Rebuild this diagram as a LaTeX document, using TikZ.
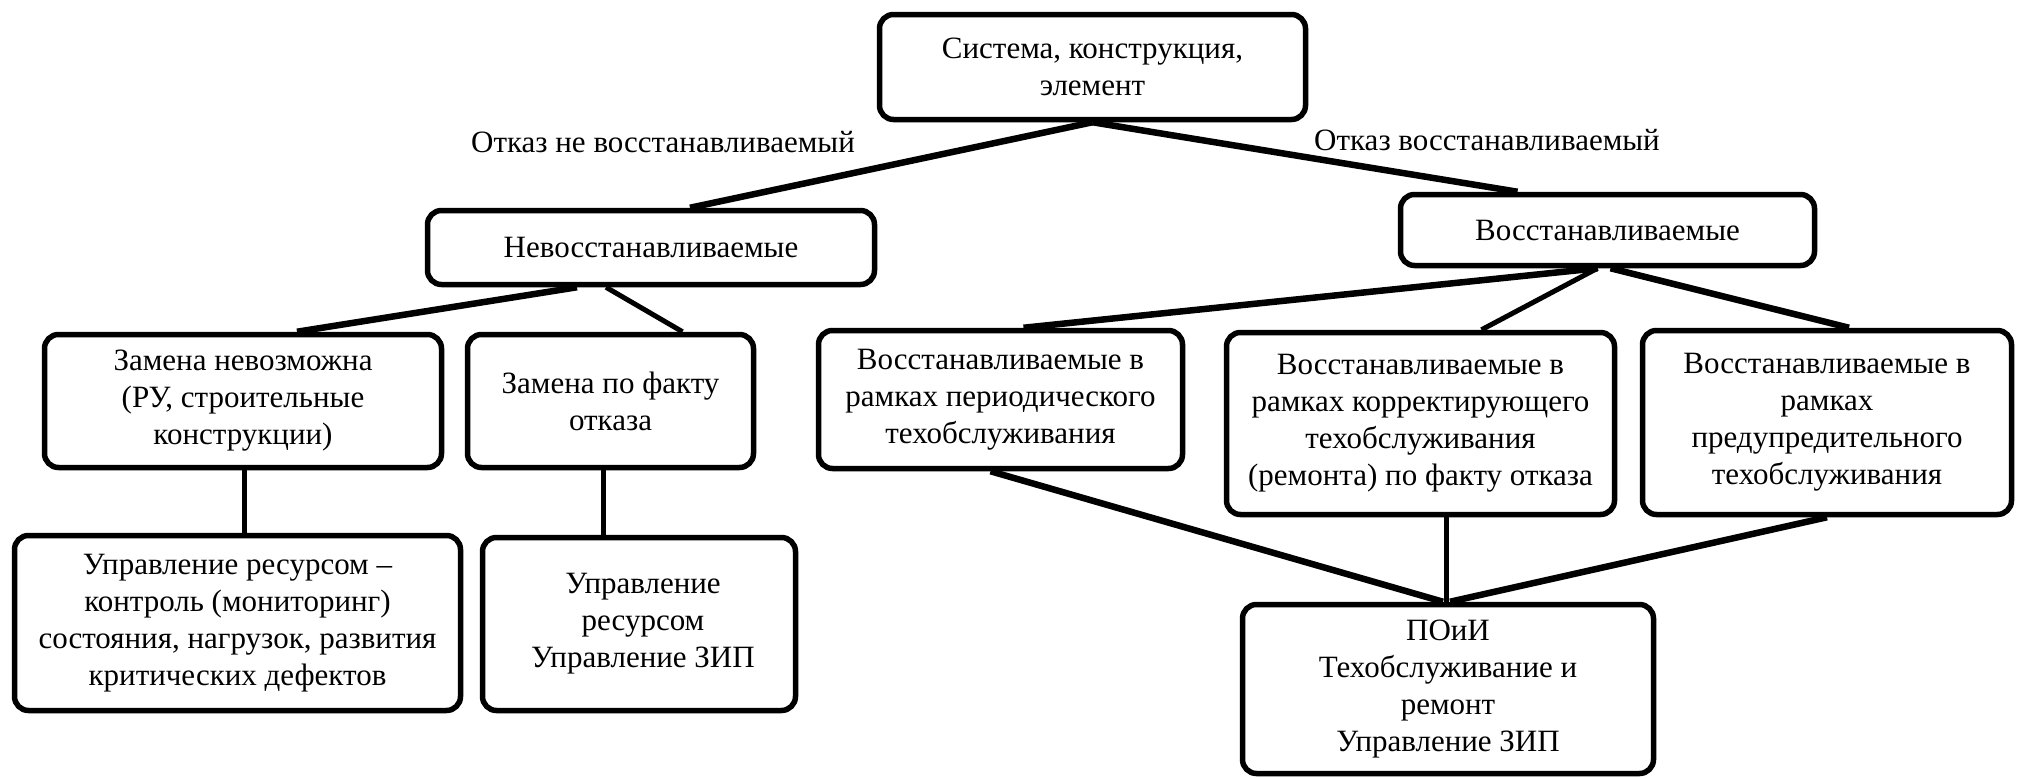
\documentclass[tikz,border=0pt]{standalone}
\usepackage{fontspec}
\IfFontExistsTF{LiberationSerif-Regular.ttf}
  {\setmainfont{LiberationSerif-Regular.ttf}[BoldFont=LiberationSerif-Bold.ttf]}
  {\setmainfont{DejaVu Serif}}
\begin{document}
\begin{tikzpicture}[x=1pt,y=-1pt]
\tikzset{
  box/.style={draw, line width=5.5pt, rounded corners=14pt, inner sep=0pt, align=center,
              font=\rmfamily\fontsize{31}{37}\selectfont},
  conn/.style={line width=6.5pt},
  thin conn/.style={line width=5pt},
  lbl/.style={font=\rmfamily\fontsize{31}{37}\selectfont, inner sep=0pt}
}
\useasboundingbox (0,0) rectangle (2022,779);

% boxes
\node[box, minimum width=426pt, minimum height=105pt] (top) at (1092.5,67) {Система, конструкция,\\элемент};
\node[box, minimum width=447pt, minimum height=74pt] (nev) at (651,247.5) {Невосстанавливаемые};
\node[box, minimum width=414pt, minimum height=71pt] (vos) at (1607.5,230) {Восстанавливаемые};

\node[box, minimum width=397pt, minimum height=133pt] (zn) at (243,401) {Замена невозможна\\(РУ, строительные\\конструкции)};
\node[box, minimum width=286pt, minimum height=133pt] (zf) at (610.5,401) {Замена по факту\\отказа};
\node[box, minimum width=364pt, minimum height=138pt] (vp) at (1000.5,399.5) {Восстанавливаемые в\\рамках периодического\\техобслуживания};
\node[box, minimum width=388pt, minimum height=182pt] (vk) at (1420.5,423.5) {Восстанавливаемые в\\рамках корректирующего\\техобслуживания\\(ремонта) по факту отказа};
\node[box, minimum width=369pt, minimum height=184pt] (vpr) at (1827,422.5) {Восстанавливаемые в\\рамках\\предупредительного\\техобслуживания};

\node[box, minimum width=446pt, minimum height=175pt] (ur) at (237.5,623) {Управление ресурсом –\\контроль (мониторинг)\\состояния, нагрузок, развития\\критических дефектов};
\node[box, minimum width=313pt, minimum height=173pt] (uz) at (639,624) {\hspace*{8pt}Управление\\\hspace*{8pt}ресурсом\\\hspace*{8pt}Управление ЗИП};
\node[box, minimum width=411pt, minimum height=169pt] (poi) at (1448,689) {ПОиИ\\Техобслуживание и\\ремонт\\Управление ЗИП};

% labels
\node[lbl] (l1) at (663,142) {Отказ не восстанавливаемый};
\node[lbl] (l2) at (1487,140) {Отказ восстанавливаемый};

% connectors
\draw[conn] (top.south) -- ([xshift=39pt]nev.north);
\draw[conn] (top.south) -- ([xshift=-90pt]vos.north);
\draw[conn] ([xshift=-74pt]nev.south) -- ([xshift=54pt]zn.north);
\draw[thin conn] ([xshift=-45pt]nev.south) -- ([xshift=72pt]zf.north);
\draw[conn] ([xshift=-10pt]vos.south) -- ([xshift=23pt]vp.north);
\draw[thin conn] ([xshift=-10pt]vos.south) -- ([xshift=61pt]vk.north);
\draw[conn] ([xshift=3pt]vos.south) -- ([xshift=22pt]vpr.north);
\draw[thin conn] ([xshift=7pt]ur.north |- zn.south) -- ([xshift=7pt]ur.north);
\draw[thin conn] ([xshift=-7pt]zf.south) -- ([xshift=-7pt]zf.south |- uz.north);
\draw[conn] ([xshift=-10pt]vp.south) -- ([xshift=-5pt]poi.north);
\draw[thin conn] ([xshift=-2pt]poi.north |- vk.south) -- ([xshift=-2pt]poi.north);
\draw[conn] (vpr.south) -- ([xshift=2pt]poi.north);
\end{tikzpicture}
\end{document}
